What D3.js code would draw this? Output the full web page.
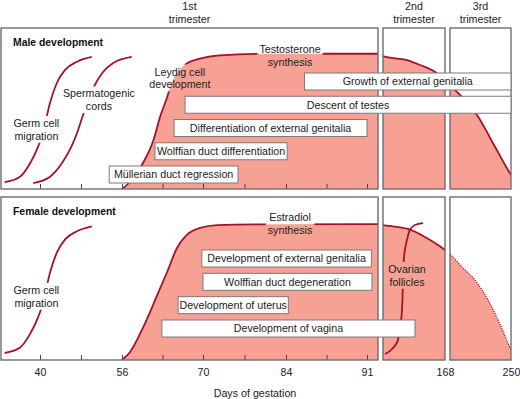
<!DOCTYPE html>
<html>
<head>
<meta charset="utf-8">
<script src="https://cdn.jsdelivr.net/npm/d3@7"></script>
<style>
  html, body { margin: 0; padding: 0; background: #fff; }
  svg { display: block; font-family: "Liberation Sans", Arial, Helvetica, sans-serif; }
  .lbl { font-size: 10.7px; fill: #222; }
  .title { font-size: 10.4px; font-weight: bold; fill: #111; }
</style>
</head>
<body>
<div id="chart"></div>
<script>
// ---- data (days of gestation, level in % of panel height) ----
const tickDays = [40, 48, 56, 63, 70, 77, 84, 87.5, 91];
const labelDays = [40, 56, 70, 84, 91, 168, 250];

const trimesters = [
    { name: ["1st", "trimester"], from: 32.5, to: 92 },
    { name: ["2nd", "trimester"], from: 93, to: 168 },
    { name: ["3rd", "trimester"], from: 169, to: 250 }
];

const testosterone = [
    [56, 0], [57.4, 4.5], [59.6, 16], [61.4, 30], [62.6, 45], [63.8, 57], [64.6, 66],
    [65.7, 73], [67.2, 78], [69.5, 81], [72.9, 83], [79.6, 84], [92, 84],
    [93, 82.6], [122, 80], [137.7, 77], [156, 72.7], [168, 67.7],
    [169, 64.6], [182.3, 58.4], [204.9, 46], [226, 28.6], [246, 11.8], [250, 8.7]
];

const estradiol = [
    [56, 0], [57.4, 4.9], [59.6, 19.6], [62.1, 39.9], [63.8, 54], [65.5, 68.7],
    [67.2, 76.7], [69.5, 81], [72.4, 82.8], [79.6, 83.2], [92, 83.4],
    [93, 82.8], [107.5, 81.8], [123.2, 80.4], [143.8, 75.5], [155.9, 71.8], [168, 67.5],
    [169, 65], [184.9, 57], [202.2, 49], [219.5, 36.8], [232.8, 24.5], [246, 10.4], [250, 6.1]
];

const germCellMigration = [
    [33.2, 4.3], [36.1, 7.5], [38.1, 16], [39.6, 26], [40.6, 35],
    [41.9, 53], [43.3, 66], [44.9, 74], [47.2, 79], [50.1, 82]
];

const spermatogenicCords = [
    [38.7, 3.7], [41.9, 7.5], [44.3, 16.1], [46.1, 26.1], [47.3, 35.4],
    [48.2, 44.1], [50.7, 64.6], [52.3, 72.7], [54.3, 78.3], [57.7, 82]
];

const ovarianFollicles = [
    [95.4, 3.7], [105.1, 7.4], [111.1, 12.3], [113.6, 20.2], [116, 30.7],
    [118.4, 63.2], [122, 73.6], [125.6, 79.8], [131.7, 82.8], [141.4, 84]
];

const maleEvents = [
    { label: "Growth of external genitalia", start: 85.6, end: 250, lane: 0 },
    { label: "Descent of testes", start: 66.9, end: 250, lane: 1 },
    { label: "Differentiation of external genitalia", start: 65, end: 91, lane: 2 },
    { label: "Wolffian duct differentiation", start: 61.7, end: 84.1, lane: 3 },
    { label: "Müllerian duct regression", start: 53.5, end: 75.9, lane: 4 }
];

const femaleEvents = [
    { label: "Development of external genitalia", start: 69.8, end: 91.4, lane: 0 },
    { label: "Wolffian duct degeneration", start: 70, end: 91.45, lane: 1 },
    { label: "Development of uterus", start: 65.7, end: 84.2, lane: 2 },
    { label: "Development of vagina", start: 62.9, end: 131.7, lane: 3 }
];

const maleNotes = [
    { lines: ["Germ cell", "migration"], day: 39.3, level: 37 },
    { lines: ["Spermatogenic", "cords"], day: 51.5, level: 55.3 },
    { lines: ["Leydig cell", "development"], day: 66, level: 68.9 },
    { lines: ["Testosterone", "synthesis"], day: 84.35, level: 82.9 }
];

const femaleNotes = [
    { lines: ["Germ cell", "migration"], day: 39.3, level: 39 },
    { lines: ["Estradiol", "synthesis"], day: 84.35, level: 83.4 },
    { lines: ["Ovarian", "follicles"], day: 122, level: 51.8 }
];

// ---- layout ----
const width = 520, height = 399;
const fillColor = "#f7a195";
const lineColor = "#a8102a";
const frameColor = "#6e6e6e";
const boxH = 17;

// piecewise axis: the gestation scale is schematic, panels separated by small gaps
const x = d3.scaleLinear()
    .domain([32.5, 40, 56, 70, 84, 91, 92, 93, 168, 169, 250])
    .range([1, 40, 122, 203, 286, 367, 378, 383, 445, 450, 511]);

const rows = [
    {
        key: "male", title: "Male development", top: 28, bottom: 189,
        lanes: [0, 4], laneY: [73, 166],
        hormone: testosterone, dottedLast: false,
        curves: [germCellMigration, spermatogenicCords],
        events: maleEvents, notes: maleNotes
    },
    {
        key: "female", title: "Female development", top: 197, bottom: 360,
        lanes: [0, 3], laneY: [250, 320],
        hormone: estradiol, dottedLast: true,
        curves: [germCellMigration, ovarianFollicles],
        events: femaleEvents, notes: femaleNotes
    }
];

const svg = d3.select("#chart").append("svg")
    .attr("width", width)
    .attr("height", height);

svg.append("rect").attr("width", width).attr("height", height).attr("fill", "#fff");

const defs = svg.append("defs");

// Trimester headings
svg.append("g").selectAll("text")
    .data(trimesters)
    .join("text")
    .attr("class", "lbl")
    .attr("text-anchor", "middle")
    .attr("x", d => (x(d.from) + x(d.to)) / 2)
    .attr("y", 10)
    .selectAll("tspan")
    .data(d => d.name)
    .join("tspan")
    .attr("x", function() { return d3.select(this.parentNode).attr("x"); })
    .attr("dy", (d, i) => i === 0 ? 0 : 12.5)
    .text(d => d);

rows.forEach(row => {
    const y = d3.scaleLinear().domain([0, 100]).range([row.bottom, row.top]);
    const laneY = d3.scaleLinear().domain(row.lanes).range(row.laneY);

    const area = d3.area()
        .x(d => x(d[0]))
        .y0(y(0))
        .y1(d => y(d[1]))
        .curve(d3.curveMonotoneX);

    const line = d3.line()
        .x(d => x(d[0]))
        .y(d => y(d[1]))
        .curve(d3.curveMonotoneX);

    // mask that knocks curve strokes out behind the annotations
    const mask = defs.append("mask")
        .attr("id", `mask-${row.key}`)
        .attr("maskUnits", "userSpaceOnUse")
        .attr("x", 0).attr("y", 0)
        .attr("width", width).attr("height", height);
    mask.append("rect")
        .attr("width", width).attr("height", height)
        .attr("fill", "#fff");

    const g = svg.append("g").attr("class", `row-${row.key}`);

    trimesters.forEach((t, i) => {
        const clipId = `clip-${row.key}-${i}`;
        defs.append("clipPath").attr("id", clipId)
            .append("rect")
            .attr("x", x(t.from))
            .attr("y", row.top)
            .attr("width", x(t.to) - x(t.from))
            .attr("height", row.bottom - row.top);

        const pg = g.append("g").attr("clip-path", `url(#${clipId})`);

        pg.append("path")
            .attr("d", area(row.hormone))
            .attr("fill", fillColor);

        const lg = pg.append("g").attr("mask", `url(#mask-${row.key})`);
        const dotted = row.dottedLast && i === trimesters.length - 1;

        lg.append("path")
            .attr("d", line(row.hormone))
            .attr("fill", "none")
            .attr("stroke", lineColor)
            .attr("stroke-width", dotted ? 1.2 : 1.8)
            .attr("stroke-dasharray", dotted ? "1.2,1.2" : null);

        lg.selectAll(".curve")
            .data(row.curves)
            .join("path")
            .attr("class", "curve")
            .attr("d", line)
            .attr("fill", "none")
            .attr("stroke", lineColor)
            .attr("stroke-width", 1.8);
    });

    // small ticks along the bottom of the first trimester panel
    const ticks = g.append("g")
        .attr("transform", `translate(0,${row.bottom})`)
        .call(d3.axisTop(x).tickValues(tickDays).tickSize(5).tickFormat(""));
    ticks.select(".domain").remove();
    ticks.selectAll("line").attr("stroke", "#444");

    // panel frames
    g.append("g").selectAll("rect")
        .data(trimesters)
        .join("rect")
        .attr("x", d => x(d.from))
        .attr("y", row.top)
        .attr("width", d => x(d.to) - x(d.from))
        .attr("height", row.bottom - row.top)
        .attr("fill", "none")
        .attr("stroke", frameColor)
        .attr("stroke-width", 1.4);

    // event boxes
    const ev = g.append("g").selectAll("g")
        .data(row.events)
        .join("g");

    ev.append("rect")
        .attr("x", d => x(d.start))
        .attr("y", d => laneY(d.lane))
        .attr("width", d => x(d.end) - x(d.start))
        .attr("height", boxH)
        .attr("fill", "#fff")
        .attr("stroke", "#7a7a7a")
        .attr("stroke-width", 1);

    ev.append("text")
        .attr("class", "lbl")
        .attr("text-anchor", "middle")
        .attr("x", d => (x(d.start) + x(d.end)) / 2)
        .attr("y", d => laneY(d.lane) + boxH / 2)
        .attr("dy", "0.36em")
        .text(d => d.label);

    // annotations
    const notes = g.append("g").selectAll("text")
        .data(row.notes)
        .join("text")
        .attr("class", "lbl")
        .attr("text-anchor", "middle")
        .attr("x", d => x(d.day))
        .attr("y", d => y(d.level));

    notes.selectAll("tspan")
        .data(d => d.lines.map((l, i) => ({ l, i, n: d.lines.length, x: x(d.day) })))
        .join("tspan")
        .attr("x", d => d.x)
        .attr("dy", d => d.i === 0 ? `${0.36 - (d.n - 1) * 0.6}em` : "1.2em")
        .text(d => d.l);

    notes.each(function() {
        const b = this.getBBox();
        mask.append("rect")
            .attr("x", b.x - 2)
            .attr("y", b.y - 1)
            .attr("width", b.width + 4)
            .attr("height", b.height + 2)
            .attr("fill", "#000");
    });

    g.append("text")
        .attr("class", "title")
        .attr("x", 13)
        .attr("y", row.top + 18)
        .text(row.title);
});

// day labels under the lower panel
const axis = svg.append("g")
    .attr("transform", `translate(0,${rows[1].bottom})`)
    .call(d3.axisBottom(x).tickValues(labelDays).tickSize(0).tickPadding(8).tickFormat(d3.format("d")));
axis.select(".domain").remove();
axis.attr("font-family", null).attr("font-size", null);
axis.selectAll("text").attr("class", "lbl");

svg.append("text")
    .attr("class", "lbl")
    .attr("text-anchor", "middle")
    .attr("x", 255)
    .attr("y", 397)
    .text("Days of gestation");
</script>
</body>
</html>
